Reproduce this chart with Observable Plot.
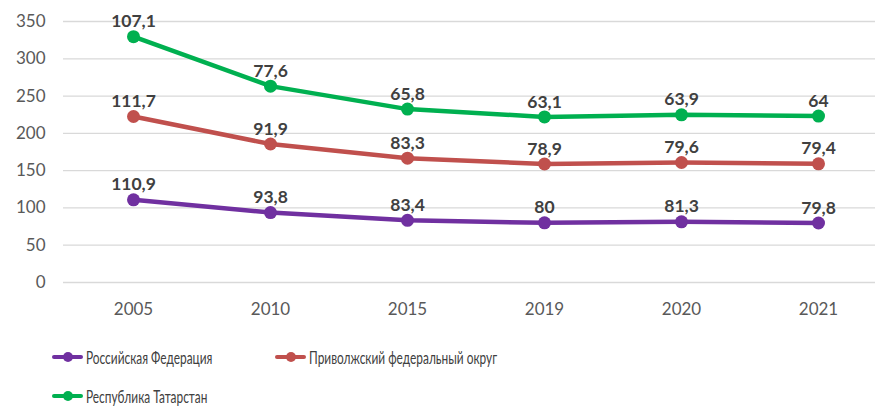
<!DOCTYPE html>
<html><head><meta charset="utf-8">
<script src="https://cdn.jsdelivr.net/npm/d3@7"></script>
<script src="https://cdn.jsdelivr.net/npm/@observablehq/plot@0.6"></script>
<style>
body{margin:0;background:#fff;font-family:Lato,"Noto Sans",sans-serif;}
#legend{position:relative;height:79px;font-size:18px;line-height:20px;color:#404040;font-family:Lato,"Noto Sans",sans-serif;}
.item{position:absolute;display:flex;align-items:center;white-space:nowrap;}
.sw{position:relative;width:31px;height:12px;margin-right:3px;}
.sw .ln{position:absolute;left:0;right:0;top:4px;height:4px;border-radius:2px;}
.sw .dt{position:absolute;left:11px;top:1px;width:10px;height:10px;border-radius:50%;}
.item span{display:inline-block;transform:scaleX(0.66);transform-origin:left center;}
</style></head>
<body><div id="chart"></div><div id="legend"></div>
<script>
const years = ["2005","2010","2015","2019","2020","2021"];
const seriesNames = ["Российская Федерация","Приволжский федеральный округ","Республика Татарстан"];
const rf = [110.9, 93.8, 83.4, 80, 81.3, 79.8];
const pfo = [111.7, 91.9, 83.3, 78.9, 79.6, 79.4];
const rt = [107.1, 77.6, 65.8, 63.1, 63.9, 64];
const colors = ["#7030a0","#c0504d","#00b050"];
const yTicks = [0,50,100,150,200,250,300,350];

const seriesValues = [rf, pfo, rt];
const data = [];
seriesNames.forEach((s, i) => years.forEach((y, j) => data.push({series: s, year: y, value: seriesValues[i][j]})));
const fmt = v => String(v).replace(".", ",");

const chart = Plot.plot({
  width: 875, height: 330,
  marginLeft: 63, marginRight: 0, marginTop: 21, marginBottom: 48,
  style: {fontFamily: "Lato, 'Noto Sans', sans-serif", fontSize: "17px", color: "#595959", background: "#fff"},
  x: {type: "point", domain: years, range: [132, 818], padding: 0, label: null, tickSize: 0, tickPadding: 20},
  y: {domain: [0, 350], ticks: yTicks, label: null, tickSize: 0, tickPadding: 18},
  color: {domain: seriesNames, range: colors},
  marks: [
    Plot.ruleY(yTicks, {stroke: "#d9d9d9", strokeWidth: 1.3}),
    Plot.line(data, Plot.stackY2({x: "year", y: "value", z: "series", stroke: "series", strokeWidth: 4.5, strokeLinejoin: "round", strokeLinecap: "round", curve: "linear"})),
    Plot.dot(data, Plot.stackY2({x: "year", y: "value", z: "series", fill: "series", r: 6.5})),
    Plot.text(data, Plot.stackY2({x: "year", y: "value", z: "series", text: d => fmt(d.value), dy: -15, fill: "#404040", fontWeight: "bold", fontSize: 17.5}))
  ]
});
document.getElementById("chart").appendChild(chart);

const legend = document.getElementById("legend");
const pos = [[52, 27], [275, 27], [52, 66]];
seriesNames.forEach((s, i) => {
  const it = document.createElement("div");
  it.className = "item";
  it.style.left = pos[i][0] + "px";
  it.style.top = (pos[i][1] - 10) + "px";
  it.innerHTML = `<div class="sw"><div class="ln" style="background:${colors[i]}"></div><div class="dt" style="background:${colors[i]}"></div></div><span>${s}</span>`;
  legend.appendChild(it);
});
</script></body></html>
